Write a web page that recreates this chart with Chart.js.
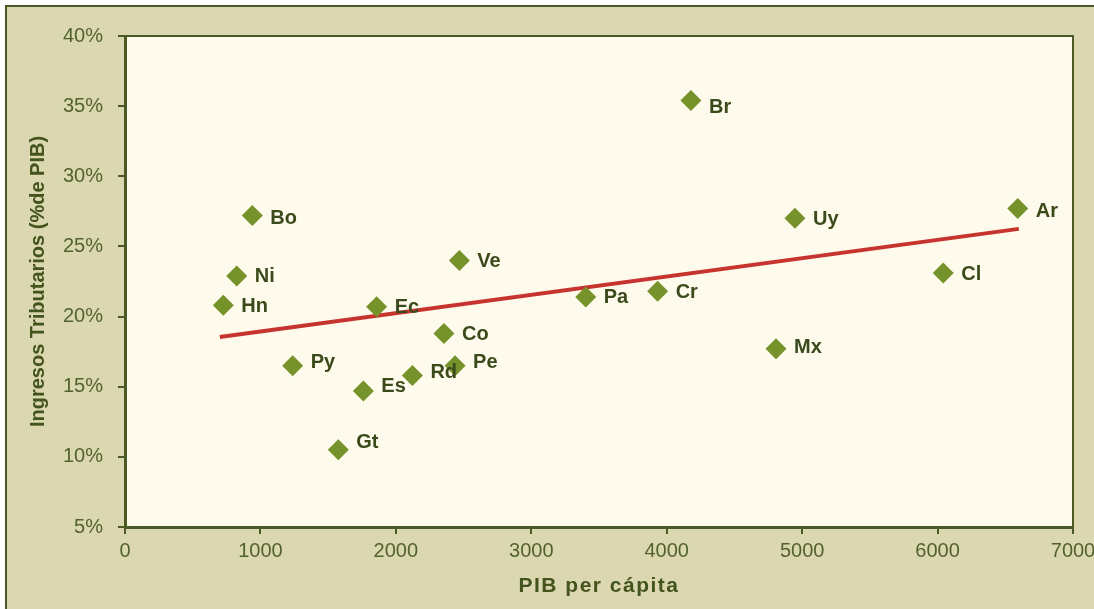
<!DOCTYPE html>
<html>
<head>
<meta charset="utf-8">
<script src="https://cdn.jsdelivr.net/npm/chart.js@4.4.1/dist/chart.umd.min.js"></script>
<style>
  body { margin: 0; background: #fff; overflow: hidden; }
  canvas { display: block; }
</style>
</head>
<body>
<canvas id="myChart" width="1094" height="609"></canvas>
<script>
// country codes, PIB per capita, ingresos tributarios (% PIB)
const countries = ['Bo', 'Ni', 'Hn', 'Py', 'Gt', 'Es', 'Ec', 'Rd', 'Co', 'Pe', 'Ve', 'Pa', 'Cr', 'Br', 'Mx', 'Uy', 'Cl', 'Ar'];
const pibPerCapita = [940, 825, 726, 1238, 1575, 1760, 1858, 2122, 2355, 2437, 2469, 3402, 3933, 4179, 4807, 4947, 6042, 6592];
const ingresos = [27.2, 22.9, 20.8, 16.5, 10.5, 14.7, 20.7, 15.8, 18.8, 16.5, 24.0, 21.4, 21.8, 35.4, 17.7, 27.0, 23.1, 27.7];

// linea de tendencia
const trendX = [700, 6600];
const trendY = [18.55, 26.25];

const xTicks = [0, 1000, 2000, 3000, 4000, 5000, 6000, 7000];
const yTicks = [5, 10, 15, 20, 25, 30, 35, 40];

const axisColor = '#4b5a24';
const textColor = '#53622d';
const labelColor = '#3b4a1b';

// small vertical nudges for a few labels, like in the original
const labelNudge = { Br: 6, Gt: -8, Es: -5, Rd: -4, Pe: -4, Py: -4, Mx: -2, Ar: 2, Bo: 2 };

const points = countries.map((c, i) => ({ x: pibPerCapita[i], y: ingresos[i] }));
const trend = trendX.map((x, i) => ({ x: x, y: trendY[i] }));

const framePlugin = {
  id: 'frame',
  beforeDraw(chart) {
    const ctx = chart.ctx;
    const a = chart.chartArea;
    ctx.save();
    ctx.fillStyle = '#dbd8b1';
    ctx.fillRect(6, 6, chart.width, chart.height);
    ctx.strokeStyle = axisColor;
    ctx.lineWidth = 2;
    ctx.beginPath();
    ctx.moveTo(6, chart.height + 5);
    ctx.lineTo(6, 6);
    ctx.lineTo(chart.width + 5, 6);
    ctx.stroke();
    ctx.fillStyle = '#fefbec';
    ctx.fillRect(a.left, a.top, a.right - a.left, a.bottom - a.top);
    ctx.restore();
  },
  beforeDatasetsDraw(chart) {
    const ctx = chart.ctx;
    const a = chart.chartArea;
    ctx.save();
    ctx.strokeStyle = axisColor;
    ctx.lineWidth = 2;
    ctx.beginPath();
    ctx.moveTo(a.left, a.top);
    ctx.lineTo(a.right, a.top);
    ctx.lineTo(a.right, a.bottom);
    ctx.stroke();
    ctx.restore();
  },
  afterDatasetsDraw(chart) {
    const ctx = chart.ctx;
    const meta = chart.getDatasetMeta(0);
    ctx.save();
    ctx.font = 'bold 20px "Liberation Sans", Arial, sans-serif';
    ctx.fillStyle = labelColor;
    ctx.textBaseline = 'middle';
    ctx.textAlign = 'left';
    meta.data.forEach((pt, i) => {
      const name = countries[i];
      ctx.fillText(name, pt.x + 18, pt.y + 1 + (labelNudge[name] || 0));
    });
    // x axis title
    const a = chart.chartArea;
    ctx.font = 'bold 21px "Liberation Sans", Arial, sans-serif';
    ctx.letterSpacing = '1.5px';
    ctx.fillStyle = '#44541d';
    ctx.textAlign = 'center';
    ctx.fillText('PIB per cápita', (a.left + a.right) / 2, 586);
    ctx.restore();
  }
};

new Chart(document.getElementById('myChart'), {
  type: 'scatter',
  data: {
    datasets: [
      {
        label: 'paises',
        data: points,
        pointStyle: 'rectRot',
        pointRadius: 10.5,
        backgroundColor: '#76922b',
        borderWidth: 0
      },
      {
        label: 'tendencia',
        data: trend,
        showLine: true,
        borderColor: '#c7342f',
        borderWidth: 4,
        pointRadius: 0
      }
    ]
  },
  options: {
    responsive: false,
    animation: false,
    devicePixelRatio: 1,
    layout: { padding: { left: 0, top: 36, right: 21, bottom: 0 } },
    plugins: {
      legend: { display: false },
      tooltip: { enabled: false }
    },
    scales: {
      x: {
        type: 'linear',
        min: 0,
        max: 7000,
        afterFit: (s) => { s.height = 82; s.paddingLeft = 0; s.paddingRight = 0; },
        afterBuildTicks: (s) => { s.ticks = xTicks.map(v => ({ value: v })); },
        ticks: {
          color: textColor,
          padding: 5,
          font: { size: 20, family: '"Liberation Sans", Arial, sans-serif' },
          callback: (v) => String(v)
        },
        grid: { drawOnChartArea: false, tickLength: 7, color: axisColor, lineWidth: 2 },
        border: { display: true, color: axisColor, width: 3 }
      },
      y: {
        type: 'linear',
        min: 5,
        max: 40,
        afterFit: (s) => { s.width = 125; s.paddingTop = 0; s.paddingBottom = 0; },
        afterBuildTicks: (s) => { s.ticks = yTicks.map(v => ({ value: v })); },
        ticks: {
          color: textColor,
          padding: 15,
          font: { size: 20, family: '"Liberation Sans", Arial, sans-serif' },
          callback: (v) => v + '%'
        },
        grid: { drawOnChartArea: false, tickLength: 7, color: axisColor, lineWidth: 2 },
        border: { display: true, color: axisColor, width: 3 },
        title: {
          display: true,
          text: 'Ingresos Tributarios (%de PIB)',
          color: '#44541d',
          padding: { top: 26, bottom: 0 },
          font: { size: 20, weight: 'bold', family: '"Liberation Sans", Arial, sans-serif' }
        }
      }
    }
  },
  plugins: [framePlugin]
});
</script>
</body>
</html>
